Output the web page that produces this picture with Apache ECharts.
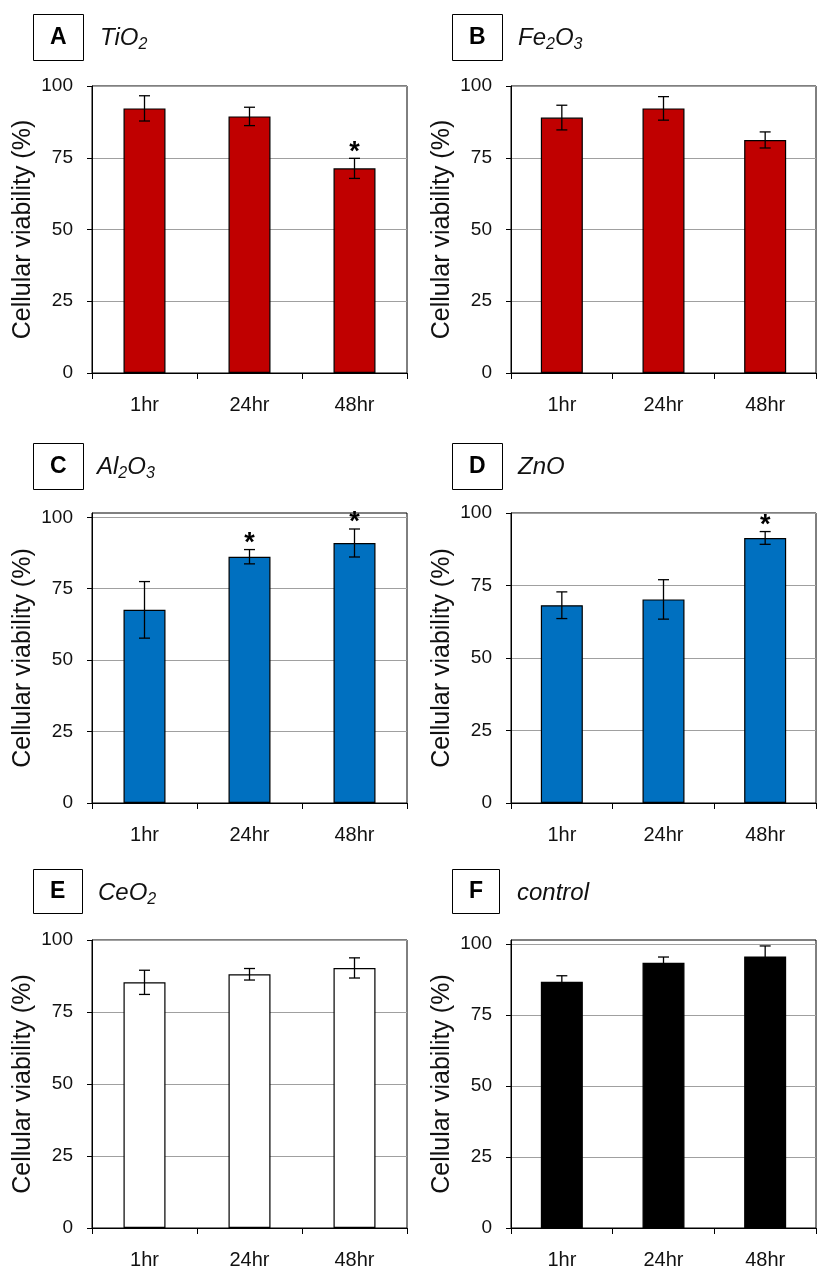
<!DOCTYPE html>
<html>
<head>
<meta charset="utf-8">
<script src="https://cdn.jsdelivr.net/npm/echarts@6/dist/echarts.min.js"></script>
<style>
html,body{margin:0;padding:0;background:#fff;}
#c{width:817px;height:1270px;}
</style>
</head>
<body>
<div id="c"></div>
<script>
// ---- data ----
const categories = ['1hr', '24hr', '48hr'];
const yTicks = [0, 25, 50, 75, 100];

const tio2Values = [92.2, 89.4, 71.3];
const tio2Err    = [4.4, 3.2, 3.5];
const tio2Sig    = [0, 0, 1];

const fe2o3Values = [89.0, 92.2, 81.2];
const fe2o3Err    = [4.3, 4.1, 2.8];
const fe2o3Sig    = [0, 0, 0];

const al2o3Values = [67.6, 86.2, 91.0];
const al2o3Err    = [9.9, 2.5, 4.9];
const al2o3Sig    = [0, 1, 1];

const znoValues = [68.2, 70.2, 91.4];
const znoErr    = [4.6, 6.8, 2.2];
const znoSig    = [0, 0, 1];

const ceo2Values = [85.3, 88.1, 90.3];
const ceo2Err    = [4.2, 2.0, 3.5];
const ceo2Sig    = [0, 0, 0];

const controlValues = [86.8, 93.5, 95.7];
const controlErr    = [2.1, 2.0, 3.7];
const controlSig    = [0, 0, 0];

const panelLetters = ['A', 'B', 'C', 'D', 'E', 'F'];
const panelNames = ['{m|TiO}{s|2}', '{m|Fe}{s|2}{m|O}{s|3}', '{m|Al}{s|2}{m|O}{s|3}', '{m|ZnO}', '{m|CeO}{s|2}', '{m|control}'];
const yAxisName = 'Cellular viability (%)';

// ---- layout / style ----
const FONT = 'Liberation Sans, Arial, sans-serif';
const TXT = '#111';
const panels = [
  {vals: tio2Values, err: tio2Err, sig: tio2Sig, color: '#C00000', grid: {left: 92, top: 86, width: 315, height: 287}, max: 100,
   box: {left: 33, top: 14, pv: 12}, title: {left: 100, top: 29}},
  {vals: fe2o3Values, err: fe2o3Err, sig: fe2o3Sig, color: '#C00000', grid: {left: 511, top: 86, width: 305, height: 287}, max: 100,
   box: {left: 452, top: 14, pv: 12}, title: {left: 518, top: 29}},
  {vals: al2o3Values, err: al2o3Err, sig: al2o3Sig, color: '#0070C0', grid: {left: 92, top: 513, width: 315, height: 290}, max: 101.5,
   box: {left: 33, top: 443, pv: 12}, title: {left: 97, top: 458}},
  {vals: znoValues, err: znoErr, sig: znoSig, color: '#0070C0', grid: {left: 511, top: 513, width: 305, height: 290}, max: 100,
   box: {left: 452, top: 443, pv: 12}, title: {left: 518, top: 458}},
  {vals: ceo2Values, err: ceo2Err, sig: ceo2Sig, color: '#FFFFFF', grid: {left: 92, top: 940, width: 315, height: 288}, max: 100,
   box: {left: 33, top: 869, pv: 11}, title: {left: 98, top: 884}},
  {vals: controlValues, err: controlErr, sig: controlSig, color: '#000000', grid: {left: 511, top: 940, width: 305, height: 290}, max: 101.5,
   box: {left: 452, top: 869, pv: 11}, title: {left: 517, top: 884}}
];

const grids = [], xAxes = [], yAxes = [], series = [], titles = [];

panels.forEach((p, i) => {
  grids.push(Object.assign({show: true, borderColor: '#000', borderWidth: 1, backgroundColor: 'transparent'}, p.grid));
  xAxes.push({
    type: 'category', gridIndex: i, data: categories,
    axisLine: {lineStyle: {color: '#000', width: 1}},
    axisTick: {show: true, length: 6, interval: 0, lineStyle: {color: '#000'}},
    axisLabel: {margin: 22, color: TXT, fontFamily: FONT, fontSize: 20, interval: 0},
    splitLine: {show: false}
  });
  yAxes.push({
    type: 'value', gridIndex: i, min: 0, max: p.max, interval: 25,
    name: yAxisName, nameLocation: 'middle', nameGap: 56,
    nameTextStyle: {color: TXT, fontFamily: FONT, fontSize: 25},
    axisLine: {show: true, lineStyle: {color: '#000', width: 1}},
    axisTick: {show: true, length: 5, lineStyle: {color: '#000'}, customValues: yTicks},
    axisLabel: {margin: 19, color: TXT, fontFamily: FONT, fontSize: 19, customValues: yTicks,
      formatter: v => (v % 25 === 0 ? String(v) : '')},
    splitLine: {show: true, lineStyle: {color: '#a0a0a0', width: 1}}
  });
  series.push({
    type: 'bar', xAxisIndex: i, yAxisIndex: i, data: p.vals, barWidth: 42,
    itemStyle: {color: p.color, borderColor: '#000', borderWidth: 1.2},
    z: 2, silent: true
  });
  series.push({
    type: 'custom', xAxisIndex: i, yAxisIndex: i, z: 5, silent: true,
    data: p.vals.map((v, k) => [k, v - p.err[k], v + p.err[k], p.sig[k]]),
    renderItem: function (params, api) {
      const x = api.value(0), lo = api.value(1), hi = api.value(2), sig = api.value(3);
      const ph = api.coord([x, hi]), pl = api.coord([x, lo]);
      const hw = 5.5;
      const st = {stroke: '#000', lineWidth: 1.3};
      const ch = [
        {type: 'line', shape: {x1: ph[0], y1: ph[1], x2: pl[0], y2: pl[1]}, style: st},
        {type: 'line', shape: {x1: ph[0] - hw, y1: ph[1], x2: ph[0] + hw, y2: ph[1]}, style: st},
        {type: 'line', shape: {x1: pl[0] - hw, y1: pl[1], x2: pl[0] + hw, y2: pl[1]}, style: st}
      ];
      if (sig) {
        ch.push({type: 'text', x: ph[0], y: ph[1] - 6,
          style: {text: '*', fill: '#000', font: 'bold 27px ' + FONT, textAlign: 'center', textVerticalAlign: 'middle'}});
      }
      return {type: 'group', children: ch};
    }
  });
  titles.push({
    text: panelLetters[i], left: p.box.left, top: p.box.top,
    padding: [p.box.pv, 17, p.box.pv, 17], borderColor: '#000', borderWidth: 1,
    textStyle: {color: '#000', fontFamily: FONT, fontSize: 23, fontWeight: 'bold', lineHeight: 23}
  });
  titles.push({
    text: panelNames[i], left: p.title.left, top: p.title.top, padding: 0,
    textStyle: {
      color: TXT, fontFamily: FONT, fontSize: 24, fontStyle: 'italic', fontWeight: 'normal',
      rich: {
        m: {fontFamily: FONT, fontSize: 24, fontStyle: 'italic', color: TXT, lineHeight: 24, verticalAlign: 'bottom', padding: [0, 0, 3, 0]},
        s: {fontFamily: FONT, fontSize: 16, fontStyle: 'italic', color: TXT, lineHeight: 8, verticalAlign: 'bottom'}
      }
    }
  });
});

const chart = echarts.init(document.getElementById('c'), null, {renderer: 'canvas'});
chart.setOption({
  backgroundColor: '#fff',
  animation: false,
  title: titles,
  grid: grids,
  xAxis: xAxes,
  yAxis: yAxes,
  series: series
});
</script>
</body>
</html>
